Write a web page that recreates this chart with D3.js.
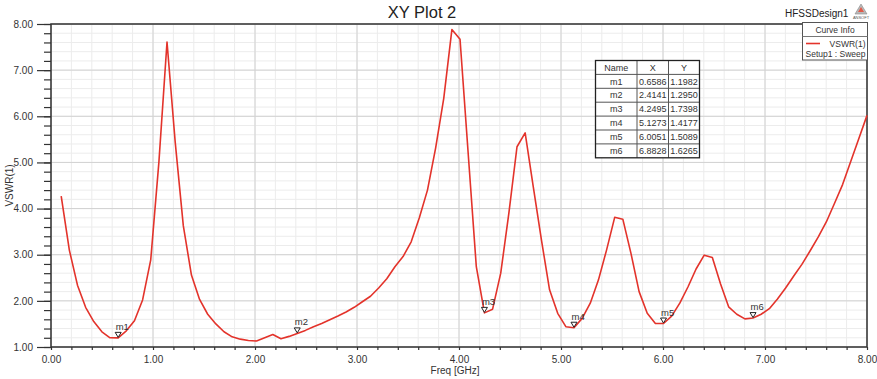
<!DOCTYPE html>
<html>
<head>
<meta charset="utf-8">
<script src="https://cdn.jsdelivr.net/npm/d3@7"></script>
<style>
  html, body { margin: 0; padding: 0; background: #fff; }
  svg { display: block; font-family: "Liberation Sans", Arial, Helvetica, sans-serif; }
</style>
</head>
<body>
<div id="chart"></div>
<script>
// sweep frequencies [GHz]
const freqs = [
  0.1000, 0.1798, 0.2596, 0.3394, 0.4192, 0.4990, 0.5788, 0.6586, 0.7384, 0.8182,
  0.8980, 0.9778, 1.0576, 1.1374, 1.2172, 1.2970, 1.3768, 1.4566, 1.5364, 1.6162,
  1.6960, 1.7758, 1.8556, 1.9354, 2.0152, 2.0949, 2.1747, 2.2545, 2.3343, 2.4141,
  2.4939, 2.5737, 2.6535, 2.7333, 2.8131, 2.8929, 2.9727, 3.0525, 3.1323, 3.2121,
  3.2919, 3.3717, 3.4515, 3.5313, 3.6111, 3.6909, 3.7707, 3.8505, 3.9303, 4.0101,
  4.0899, 4.1697, 4.2495, 4.3293, 4.4091, 4.4889, 4.5687, 4.6485, 4.7283, 4.8081,
  4.8879, 4.9677, 5.0475, 5.1273, 5.2071, 5.2869, 5.3667, 5.4465, 5.5263, 5.6061,
  5.6859, 5.7657, 5.8455, 5.9253, 6.0051, 6.0848, 6.1646, 6.2444, 6.3242, 6.4040,
  6.4838, 6.5636, 6.6434, 6.7232, 6.8030, 6.8828, 6.9626, 7.0424, 7.1222, 7.2020,
  7.2818, 7.3616, 7.4414, 7.5212, 7.6010, 7.6808, 7.7606, 7.8404, 7.9202, 8.0000
];

// VSWR(1)
const vswr = [
  4.27, 3.10, 2.34, 1.86, 1.55, 1.33, 1.20, 1.198, 1.35, 1.57,
  2.02, 2.89, 5.00, 7.61, 5.45, 3.63, 2.56, 2.03, 1.71, 1.50,
  1.33, 1.22, 1.17, 1.14, 1.13, 1.20, 1.27, 1.18, 1.23, 1.295,
  1.36, 1.44, 1.51, 1.59, 1.67, 1.76, 1.86, 1.98, 2.10, 2.28,
  2.48, 2.74, 2.96, 3.28, 3.80, 4.40, 5.31, 6.39, 7.88, 7.67,
  5.20, 2.74, 1.74, 1.82, 2.60, 3.90, 5.34, 5.64, 4.47, 3.32,
  2.24, 1.73, 1.44, 1.418, 1.62, 1.95, 2.45, 3.10, 3.81, 3.77,
  3.03, 2.20, 1.73, 1.51, 1.509, 1.67, 1.95, 2.30, 2.69, 2.99,
  2.94, 2.37, 1.87, 1.71, 1.61, 1.627, 1.71, 1.83, 2.04, 2.28,
  2.54, 2.79, 3.08, 3.38, 3.71, 4.11, 4.52, 5.02, 5.52, 6.02
];

const markerNames = ['m1', 'm2', 'm3', 'm4', 'm5', 'm6'];
const markerX = [0.6586, 2.4141, 4.2495, 5.1273, 6.0051, 6.8828];
const markerY = [1.1982, 1.2950, 1.7398, 1.4177, 1.5089, 1.6265];

const xTicks = [0, 1, 2, 3, 4, 5, 6, 7, 8];
const yTicks = [1, 2, 3, 4, 5, 6, 7, 8];

const width = 877;
const height = 379;
const margin = { top: 24, right: 10, bottom: 32, left: 51 };

const x = d3.scaleLinear().domain([0, 8]).range([margin.left, width - margin.right]);
const y = d3.scaleLinear().domain([1, 8]).range([height - margin.bottom, margin.top]);

const xMinor = d3.range(0, 8.001, 0.2);
const yMinor = d3.range(1, 8.001, 0.2);

const svg = d3.select('#chart').append('svg')
  .attr('width', width)
  .attr('height', height);

// grid
const grid = svg.append('g');
grid.selectAll('.vminor').data(xMinor).enter().append('line')
  .attr('x1', d => x(d)).attr('x2', d => x(d))
  .attr('y1', y(1)).attr('y2', y(8))
  .attr('stroke', '#ececec').attr('stroke-width', 1);
grid.selectAll('.hminor').data(yMinor).enter().append('line')
  .attr('y1', d => y(d)).attr('y2', d => y(d))
  .attr('x1', x(0)).attr('x2', x(8))
  .attr('stroke', '#ececec').attr('stroke-width', 1);
grid.selectAll('.vmajor').data(xTicks).enter().append('line')
  .attr('x1', d => x(d)).attr('x2', d => x(d))
  .attr('y1', y(1)).attr('y2', y(8))
  .attr('stroke', '#d2d2d2').attr('stroke-width', 1);
grid.selectAll('.hmajor').data(yTicks).enter().append('line')
  .attr('y1', d => y(d)).attr('y2', d => y(d))
  .attr('x1', x(0)).attr('x2', x(8))
  .attr('stroke', '#d2d2d2').attr('stroke-width', 1);

// axes
const fmt = d3.format('.2f');

const styleAxis = g => {
  g.select('.domain').remove();
  g.selectAll('line').attr('stroke', '#333').attr('stroke-width', 1.2);
  g.selectAll('text').attr('fill', '#333').attr('font-size', '10px');
};

svg.append('g')
  .attr('transform', `translate(${x(0)},0)`)
  .call(d3.axisLeft(y).tickValues(yMinor).tickSize(7).tickFormat(''))
  .call(styleAxis);
svg.append('g')
  .attr('transform', `translate(${x(0)},0)`)
  .call(d3.axisLeft(y).tickValues(yTicks).tickSize(14).tickPadding(4).tickFormat(fmt))
  .call(styleAxis);
svg.append('g')
  .attr('transform', `translate(0,${y(1)})`)
  .call(d3.axisBottom(x).tickValues(xMinor).tickSize(3).tickPadding(5.5).tickFormat(d => xTicks.includes(Math.round(d * 10) / 10) ? fmt(d) : ''))
  .call(styleAxis);

// plot frame
svg.append('rect')
  .attr('x', x(0)).attr('y', y(8))
  .attr('width', x(8) - x(0)).attr('height', y(1) - y(8))
  .attr('fill', 'none')
  .attr('stroke', '#333')
  .attr('stroke-width', 1.5);

// curve
const line = d3.line()
  .x((d, i) => x(freqs[i]))
  .y(d => y(d));

svg.append('path')
  .datum(vswr)
  .attr('d', line)
  .attr('fill', 'none')
  .attr('stroke', '#e3332b')
  .attr('stroke-width', 1.6)
  .attr('stroke-linejoin', 'round');

// markers
const markers = svg.append('g')
  .selectAll('g')
  .data(markerNames)
  .enter()
  .append('g')
  .attr('transform', (d, i) => `translate(${x(markerX[i])},${y(markerY[i])})`);

markers.append('path')
  .attr('d', 'M-3,-5.5 L3,-5.5 L0,-0.5 Z')
  .attr('fill', '#fff')
  .attr('stroke', '#222')
  .attr('stroke-width', 1);

markers.append('text')
  .attr('x', -2.5)
  .attr('y', -8)
  .attr('font-size', '9.5px')
  .attr('fill', '#333')
  .text(d => d);

// marker table
const tbl = { x: 595.5, y: 60.5, rowH: 13.9, cols: [41.5, 31.5, 31] };
const table = svg.append('g');
const rows = [['Name', 'X', 'Y']].concat(markerNames.map((d, i) => [d, markerX[i].toFixed(4), markerY[i].toFixed(4)]));
const tblW = d3.sum(tbl.cols);
const tblH = tbl.rowH * rows.length;

table.append('rect')
  .attr('x', tbl.x).attr('y', tbl.y)
  .attr('width', tblW).attr('height', tblH)
  .attr('fill', '#fff');

rows.forEach((row, r) => {
  let cx = tbl.x;
  row.forEach((cell, c) => {
    table.append('text')
      .attr('x', cx + tbl.cols[c] / 2)
      .attr('y', tbl.y + tbl.rowH * r + tbl.rowH / 2 + 3.2)
      .attr('text-anchor', 'middle')
      .attr('font-size', '9px')
      .attr('fill', '#333')
      .text(cell);
    cx += tbl.cols[c];
  });
  if (r > 0) {
    table.append('line')
      .attr('x1', tbl.x).attr('x2', tbl.x + tblW)
      .attr('y1', tbl.y + tbl.rowH * r).attr('y2', tbl.y + tbl.rowH * r)
      .attr('stroke', '#555').attr('stroke-width', 1);
  }
});
let colX = tbl.x;
tbl.cols.slice(0, -1).forEach(w => {
  colX += w;
  table.append('line')
    .attr('x1', colX).attr('x2', colX)
    .attr('y1', tbl.y).attr('y2', tbl.y + tblH)
    .attr('stroke', '#555').attr('stroke-width', 1);
});
table.append('rect')
  .attr('x', tbl.x).attr('y', tbl.y)
  .attr('width', tblW).attr('height', tblH)
  .attr('fill', 'none')
  .attr('stroke', '#222')
  .attr('stroke-width', 1.3);

// curve info legend
const legend = svg.append('g');
legend.append('rect')
  .attr('x', 802.5).attr('y', 22.5)
  .attr('width', 65).attr('height', 37.5)
  .attr('fill', '#fff')
  .attr('stroke', '#555')
  .attr('stroke-width', 1);
legend.append('line')
  .attr('x1', 802.5).attr('x2', 867.5)
  .attr('y1', 36.5).attr('y2', 36.5)
  .attr('stroke', '#777');
legend.append('text')
  .attr('x', 835).attr('y', 33)
  .attr('text-anchor', 'middle')
  .attr('font-size', '8.5px').attr('fill', '#333')
  .text('Curve Info');
legend.append('line')
  .attr('x1', 806).attr('x2', 820)
  .attr('y1', 43.5).attr('y2', 43.5)
  .attr('stroke', '#e3332b').attr('stroke-width', 1.6);
legend.append('text')
  .attr('x', 865.5).attr('y', 47)
  .attr('text-anchor', 'end')
  .attr('font-size', '8.5px').attr('fill', '#333')
  .text('VSWR(1)');
legend.append('text')
  .attr('x', 865.5).attr('y', 56.5)
  .attr('text-anchor', 'end')
  .attr('font-size', '8.5px').attr('fill', '#333')
  .text('Setup1 : Sweep');

// titles
svg.append('text')
  .attr('x', 422).attr('y', 17.5)
  .attr('text-anchor', 'middle')
  .attr('font-size', '16.5px').attr('fill', '#222')
  .text('XY Plot 2');

svg.append('text')
  .attr('x', 785).attr('y', 16.5)
  .attr('font-size', '10px').attr('fill', '#222')
  .text('HFSSDesign1');

// ansoft logo
const logo = svg.append('g').attr('transform', 'translate(861,4)');
logo.append('path')
  .attr('d', 'M0,0 L6,10 L-6,10 Z')
  .attr('fill', '#b9b9b9')
  .attr('stroke', '#8a8a8a')
  .attr('stroke-width', 0.6);
logo.append('path')
  .attr('d', 'M0,3 L3,8 L-3,8 Z')
  .attr('fill', '#e25a4a');
logo.append('text')
  .attr('x', 0).attr('y', 14.5)
  .attr('text-anchor', 'middle')
  .attr('font-size', '4px').attr('fill', '#555')
  .text('ANSOFT');

svg.append('text')
  .attr('x', 455).attr('y', 374)
  .attr('text-anchor', 'middle')
  .attr('font-size', '10px').attr('fill', '#333')
  .text('Freq [GHz]');

svg.append('text')
  .attr('transform', `translate(13,${(y(1) + y(8)) / 2}) rotate(-90)`)
  .attr('text-anchor', 'middle')
  .attr('font-size', '10px').attr('fill', '#333')
  .text('VSWR(1)');
</script>
</body>
</html>
